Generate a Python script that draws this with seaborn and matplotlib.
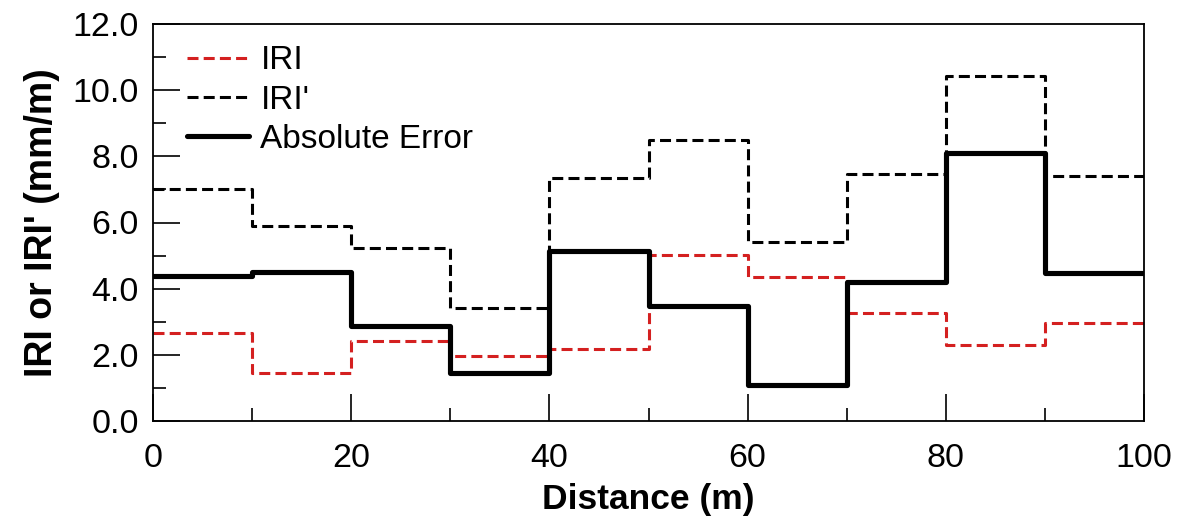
import matplotlib
matplotlib.use("Agg")
import matplotlib.pyplot as plt
import seaborn as sns
import pandas as pd
from matplotlib.ticker import MultipleLocator, FormatStrFormatter

# Data (10 m segments, last value repeated to close the step at 100 m)
distance = [0, 10, 20, 30, 40, 50, 60, 70, 80, 90, 100]
iri = [2.67, 1.45, 2.41, 1.96, 2.17, 5.02, 4.35, 3.27, 2.31, 2.95, 2.95]
iri_prime = [7.02, 5.90, 5.24, 3.43, 7.34, 8.49, 5.42, 7.47, 10.42, 7.40, 7.40]
abs_error = [4.37, 4.50, 2.88, 1.44, 5.15, 3.49, 1.10, 4.21, 8.09, 4.47, 4.47]

sns.set_theme(style="white")
plt.rcParams['font.family'] = ['Liberation Sans', 'DejaVu Sans']
plt.rcParams['text.color'] = 'black'
plt.rcParams['axes.labelcolor'] = 'black'
plt.rcParams['xtick.color'] = 'black'
plt.rcParams['ytick.color'] = 'black'

fig = plt.figure(figsize=(11.86, 5.2), dpi=100)
ax = fig.add_axes([153 / 1186, 1 - 421 / 520, (1144 - 153) / 1186, (421 - 24) / 520])

df = pd.DataFrame({"Distance": distance, "IRI": iri, "IRI'": iri_prime, "Absolute Error": abs_error})

dash = (0, (3.6, 1.7))
sns.lineplot(data=df, x="Distance", y="IRI", ax=ax, color="#d42020", lw=2.2,
             drawstyle="steps-post", label="IRI", linestyle=dash)
sns.lineplot(data=df, x="Distance", y="IRI'", ax=ax, color="black", lw=2.2,
             drawstyle="steps-post", label="IRI'", linestyle=dash)
sns.lineplot(data=df, x="Distance", y="Absolute Error", ax=ax, color="black", lw=3.7,
             drawstyle="steps-post", label="Absolute Error")

ax.set_xlim(0, 100)
ax.set_ylim(0, 12)
ax.xaxis.set_major_locator(MultipleLocator(20))
ax.xaxis.set_minor_locator(MultipleLocator(10))
ax.yaxis.set_major_locator(MultipleLocator(2))
ax.yaxis.set_minor_locator(MultipleLocator(1))
ax.yaxis.set_major_formatter(FormatStrFormatter('%.1f'))

ax.tick_params(axis='both', which='both', direction='in', top=False, right=False,
               left=True, bottom=True, color='black', width=1.2)
ax.tick_params(axis='both', which='major', length=19.5, labelsize=24.5)
ax.tick_params(axis='x', which='major', pad=16)
ax.tick_params(axis='y', which='major', pad=10)
ax.tick_params(axis='both', which='minor', length=9.5)

for s in ax.spines.values():
    s.set_color('black')
    s.set_linewidth(1.3)

ax.set_xlabel("Distance (m)", fontsize=25.5, fontweight='bold', labelpad=6)
ax.set_ylabel("IRI or IRI' (mm/m)", fontsize=27, fontweight='bold', labelpad=9)

leg = ax.legend(loc='upper left', bbox_to_anchor=(0.021, 0.98), frameon=False,
                fontsize=24, handlelength=1.85, labelspacing=0.25,
                borderaxespad=0.0, handletextpad=0.35)

fig.savefig("out.png", dpi=100)
